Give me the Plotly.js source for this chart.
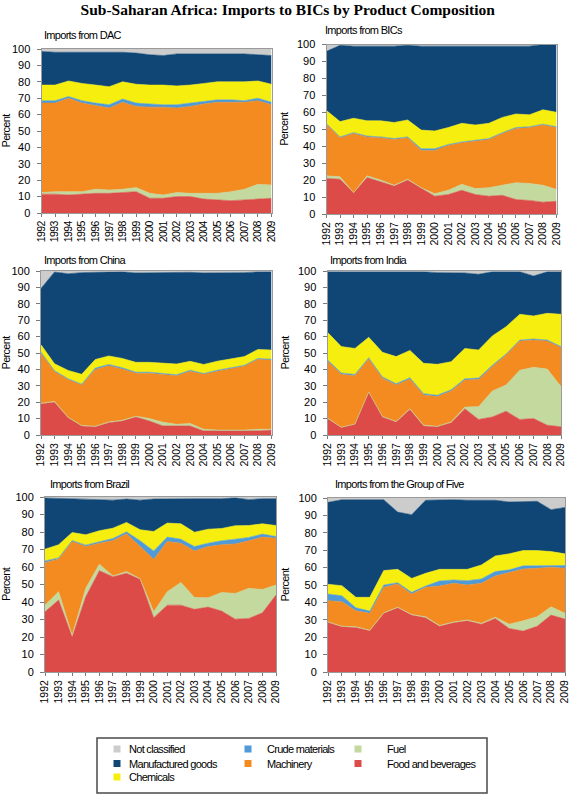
<!DOCTYPE html>
<html>
<head>
<meta charset="utf-8">
<script src="https://cdn.plot.ly/plotly-3.0.1.min.js"></script>
<style>
html,body{margin:0;padding:0;background:#fff;}
#chart{width:572px;height:795px;}
/* condense the sans text to imitate the narrow face of the original */
.annotation-text{letter-spacing:-0.7px;}
.ytitle,.y2title,.y3title,.y4title,.y5title,.y6title{letter-spacing:-0.7px;}
.xtick text{letter-spacing:-0.6px;}
</style>
</head>
<body>
<div id="chart"></div>
<script>
// ---------- DATA ----------
const years = [1992,1993,1994,1995,1996,1997,1998,1999,2000,2001,2002,2003,2004,2005,2006,2007,2008,2009];
const yearLabels = ["1992","1993","1994","1995","1996","1997","1998","1999","2000","2001","2002","2003","2004","2005","2006","2007","2008","2009"];
const categories = ["Food and beverages","Fuel","Machinery","Crude materials","Chemicals","Manufactured goods","Not classified"];
const panelTitles = ["Imports from DAC","Imports from BICs","Imports from China","Imports from India","Imports from Brazil","Imports from the Group of Five"];
const mainTitle = "Sub-Saharan Africa: Imports to BICs by Product Composition";
const yTitle = "Percent";

// DAC
const dacFood  = [11.5,11.5,11,11.5,12,12,12.5,13,9,9,10,10,8.5,8,7.5,8,8.5,9];
const dacFuel  = [1,1.5,2,1.5,2.5,2,2,2.5,3,2,2.5,2,3.5,4,5.5,6.5,9,8];
const dacMach  = [54.5,54,57,54,51,50,53,49.5,52.5,53.5,51.5,53,54.5,55.5,54.5,53,51,49];
const dacCrude = [1.5,1.5,1,1.5,1.5,2,2,2,2,1.5,2,2,1.5,1.5,1.5,1,1.5,1.5];
const dacChem  = [9.5,9.5,9.5,10.5,11,11,10.5,11.5,11.5,12,11.5,11,11,11,11,11.5,10.5,11];
const dacManuf = [20.5,20,17.5,19,20,21,18,19,18.5,18,19.5,19,18,17,17,17,16,17.5];
const dacNC    = [1.5,2,2,2,2,2,2,2.5,3.5,4,3,3,3,3,3,3,3.5,4];
// BICs
const bicFood  = [21,20.5,12.5,21.5,19,16.5,20,15,10.5,11.5,14,11.5,10.5,11,8.5,8,7,7.5];
const bicFuel  = [1.5,1.5,0,1,1,0.5,0.5,0.5,1.5,2.5,3.5,3.5,5,6,10,10,10,7];
const bicMach  = [30.5,23,35,23,25,27,24.5,22,25.5,26.5,24.5,28,28.5,30.5,32,33,35.5,36.5];
const bicCrude = [0.3,0.5,0.5,0.5,0.5,0.5,0.5,1,1,0.5,0.5,0.5,0.5,0.5,0.5,0.5,0.5,0.5];
const bicChem  = [7.7,9,8.5,9,9.5,9.5,10,11,10.5,10,11,9,9,9,8,7,8.5,8.5];
const bicManuf = [35,45,42.5,44,44,45,44,49.5,50,48,45.5,46.5,45.5,42,40,40.5,38.5,40];
const bicNC    = [4,0.5,1,1,1,1,0.5,1,1,1,1,1,1,1,1,1,0,0];
// China
const chnFood  = [19,20,10.5,5.5,5,7.5,8.5,11,8.5,5.5,5.5,5.5,2.5,2.5,2.5,2.5,2.5,3];
const chnFuel  = [0.3,0.5,0.3,0.3,0.3,0.5,0.5,0.5,1.5,2.3,1,1.5,1,0.5,0.5,0.5,1,0.5];
const chnMach  = [30.5,18,23,24.7,34.7,34.3,31.2,26.1,27.6,29.2,29.7,31.8,33.5,35.8,37.2,39,42.6,42.2];
const chnCrude = [0.7,0.7,0.5,0.5,0.8,0.7,0.8,0.7,0.7,0.7,0.5,0.7,0.5,0.7,0.6,0.5,0.6,0.5];
const chnChem  = [4.5,4.2,5.1,6,5.2,5.2,5.7,6,6,6,6.6,5.4,5.5,5.5,5.5,5.3,5.5,5.6];
const chnManuf = [34.4,56,58.9,62,53.2,51.1,52.8,54.5,54.7,55.3,56,54.3,55.8,53.8,52.4,51.2,47.3,47.7];
const chnNC    = [10.6,0.5,1.5,1,0.8,0.7,0.5,1.2,1,1,0.7,0.8,1.2,1.2,1.3,1,0.5,0.5];
// India
const indFood  = [10,4.5,6.5,26,11,8,15.5,5.5,5,7.5,16,9.5,11,14.5,9.5,10,6,5];
const indFuel  = [0.3,0.2,0.2,0.2,0.3,0.3,0.5,0.5,0.3,0.5,1,7.8,15.8,16,30,31.3,34.2,24.5];
const indMach  = [34.8,32.3,29.5,20.1,23.3,22.2,18.1,18.4,18.1,18.8,16.5,16.6,14.9,18.3,17.8,16.6,17.1,23.8];
const indCrude = [0.8,0.8,0.7,0.8,0.8,0.8,0.8,0.8,0.8,0.8,0.8,0.8,0.8,0.6,0.6,0.6,0.6,0.6];
const indChem  = [16.7,16.1,15.9,12.5,15,16.5,16.7,18.5,18.9,17.1,18.5,17.1,17.9,16.6,15.7,14.1,16.3,19.7];
const indManuf = [36.9,45.6,46.7,39.9,49.1,51.7,47.9,55.8,55.9,54.1,46,46.2,39.1,33.5,25.9,24.4,25.3,25.9];
const indNC    = [0.5,0.5,0.5,0.5,0.5,0.5,0.5,0.5,1,1.2,1.2,2,0.5,0.5,0.5,3,0.5,0.5];
// Brazil
const braFood  = [34.4,41.1,20.1,43,57.9,54.5,56.4,53,31,38.2,38.2,35.8,37.1,34.8,30.2,30.6,33.8,44];
const braFuel  = [3.8,4.8,0.9,4.8,3.7,0.4,1,0.3,3.4,7.7,13,6.8,5.3,10.7,14.7,17.2,13.4,5.7];
const braMach  = [24.3,18.7,53.6,23.9,12,20.2,21.6,18.4,30,28.7,22.4,26.6,29.3,27.2,28.3,27.2,29.9,26.8];
const braCrude = [1,0.6,0.5,0.8,0.8,1.2,1.1,3.3,4.8,2.5,2.3,2.5,1.9,2.3,2.7,1.9,1.7,0.9];
const braChem  = [6.7,7.5,4.6,5.9,6.3,5.9,5.4,6.3,11.1,8,8.8,8.2,8,7,7.7,6.8,5.9,6.3];
const braManuf = [29.3,26.5,19.5,20.6,17.8,16,13.3,16.9,18.5,13.9,14.3,19.1,17.4,17,15.9,14.8,14.3,15.3];
const braNC    = [0.5,0.8,0.8,1,1.5,1.8,1.2,1.8,1.2,1,1,1,1,1,0.5,1.5,1,1];
// Group of Five
const g5Food  = [28.5,26,25.6,23.7,33.7,36.9,32.7,31.2,26.3,28.3,29.4,27.5,30.8,25,23.5,26.3,32.7,30.4];
const g5Fuel  = [0.3,0.3,0.4,0.3,0.3,0.3,0.3,0.5,0.4,0.4,0.5,0.5,0.7,2.5,5.9,5.4,4.8,3.3];
const g5Mach  = [12.2,14.1,9.2,9.7,14.7,13.4,11.8,17,22.7,22.3,20.1,23,23.7,29.6,29.8,27.9,22.7,25.9];
const g5Crude = [3.8,3.4,1.7,1.3,1.3,0.7,1,0.7,2.9,1.9,2.5,2.5,2.5,1.6,1.8,1.6,1.1,1.6];
const g5Chem  = [5.6,5.8,6,7.9,8.3,7.7,8,7.3,6.7,6.1,6.5,8,9,9.2,8.8,8.6,7.9,6.7];
const g5Manuf = [47.1,49.4,56.1,56.1,40.7,32.9,36.6,42,40,40,39.7,37,32,29.8,28.1,28.3,24.1,26.7];
const g5NC    = [2.5,1,1,1,1,8.1,9.6,1.3,1,1,1.3,1.5,1.3,2.3,2.1,1.9,6.7,5.4];

// ---------- STYLE ----------
const colors = {
  "Food and beverages": "#dc4b48",
  "Fuel": "#c3d99e",
  "Machinery": "#f38b20",
  "Crude materials": "#4f9ad8",
  "Chemicals": "#f6ee0e",
  "Manufactured goods": "#0f4675",
  "Not classified": "#cccccc"
};
const FONT = '"Liberation Sans", Arial, sans-serif';
const W = 572, H = 795;

const panelData = [
  [dacFood, dacFuel, dacMach, dacCrude, dacChem, dacManuf, dacNC],
  [bicFood, bicFuel, bicMach, bicCrude, bicChem, bicManuf, bicNC],
  [chnFood, chnFuel, chnMach, chnCrude, chnChem, chnManuf, chnNC],
  [indFood, indFuel, indMach, indCrude, indChem, indManuf, indNC],
  [braFood, braFuel, braMach, braCrude, braChem, braManuf, braNC],
  [g5Food, g5Fuel, g5Mach, g5Crude, g5Chem, g5Manuf, g5NC]
];

// plot-area boxes in pixels [left, right, top, bottom]
const boxes = [
  [41.5, 271.5, 49, 213],
  [326.5, 556.5, 44.5, 214],
  [41, 271.5, 271, 435],
  [327.5, 561, 271, 435],
  [45, 276, 497, 672],
  [328, 565, 498, 672]
];
const titlePos = [[42,35],[323,30],[42,260],[328,260],[48,484],[333,484]];

const traces = [];
const layout = {
  width: W, height: H,
  margin: {l:0, r:0, t:0, b:0},
  paper_bgcolor: '#ffffff', plot_bgcolor: '#ffffff',
  showlegend: false,
  title: {
    text: mainTitle,
    font: {family: '"Liberation Serif", "Times New Roman", serif', size: 15.5, color: '#000', weight: 'bold'},
    x: 0.503, xanchor: 'center', xref: 'paper',
    y: 1 - 10/H, yref: 'container', yanchor: 'middle'
  },
  annotations: [],
  shapes: []
};

panelData.forEach((series, i) => {
  const xs = i === 0 ? '' : String(i + 1);
  series.forEach((vals, k) => {
    const cat = categories[k];
    traces.push({
      type: 'scatter', mode: 'lines',
      x: years, y: vals,
      name: cat,
      stackgroup: 'g' + i,
      fillcolor: colors[cat],
      line: {width: 0.6, color: colors[cat], shape: 'linear'},
      xaxis: 'x' + xs, yaxis: 'y' + xs,
      showlegend: false,
      hovertemplate: cat + ' %{x}: %{y}%<extra></extra>'
    });
  });
  const b = boxes[i];
  layout['xaxis' + xs] = {
    domain: [b[0]/W, b[1]/W], anchor: 'y' + xs,
    range: [years[0], years[years.length-1]],
    tickmode: 'array', tickvals: years, ticktext: yearLabels,
    tickangle: -90, ticks: 'outside', ticklen: 3, tickcolor: '#7a7a7a', tickwidth: 1,
    showline: true, linecolor: '#9a9a9a', linewidth: 1, mirror: true,
    showgrid: false, zeroline: false,
    tickfont: {family: FONT, size: 10.5, color: '#000'},
    fixedrange: true
  };
  layout['yaxis' + xs] = {
    domain: [1 - b[3]/H, 1 - b[2]/H], anchor: 'x' + xs,
    range: [0, 100], tickmode: 'linear', tick0: 0, dtick: 10,
    ticks: 'outside', ticklen: 4, tickcolor: '#7a7a7a', tickwidth: 1,
    ticklabelstandoff: 4,
    showline: true, linecolor: '#9a9a9a', linewidth: 1, mirror: true,
    showgrid: false, zeroline: false,
    tickfont: {family: FONT, size: 11, color: '#000'},
    title: {text: yTitle, font: {family: FONT, size: 11, color: '#000'}, standoff: 6},
    fixedrange: true
  };
  layout.annotations.push({
    text: panelTitles[i], xref: 'paper', yref: 'paper',
    x: titlePos[i][0]/W, y: 1 - titlePos[i][1]/H,
    xanchor: 'left', yanchor: 'middle', showarrow: false,
    font: {family: FONT, size: 11, color: '#000'}
  });
});

// ---------- LEGEND (boxed, three columns as in the reference) ----------
const legendOrder = ["Not classified","Manufactured goods","Chemicals","Crude materials","Machinery","Fuel","Food and beverages"];
const legCol = [0,0,0,1,1,2,2];
const legRow = [0,1,2,0,1,0,1];
const swatchX = [117, 248, 358];
const textX = [127, 265, 385];
const rowY = [749, 763.5, 777];
layout.shapes.push({
  type: 'rect', xref: 'paper', yref: 'paper',
  x0: 97/W, x1: 487/W, y0: 1 - 793/H, y1: 1 - 738/H,
  line: {color: '#4a4a4a', width: 1.5}, fillcolor: 'rgba(0,0,0,0)'
});
legendOrder.forEach((cat, j) => {
  const cx = swatchX[legCol[j]], cy = rowY[legRow[j]], s = 3.5;
  layout.shapes.push({
    type: 'rect', xref: 'paper', yref: 'paper',
    x0: (cx - s)/W, x1: (cx + s)/W, y0: 1 - (cy + s)/H, y1: 1 - (cy - s)/H,
    line: {width: 0}, fillcolor: colors[cat]
  });
  layout.annotations.push({
    text: cat, xref: 'paper', yref: 'paper',
    x: textX[legCol[j]]/W, y: 1 - cy/H,
    xanchor: 'left', yanchor: 'middle', showarrow: false,
    font: {family: FONT, size: 11, color: '#000'}
  });
});

Plotly.newPlot('chart', traces, layout, {staticPlot: true, displayModeBar: false});
</script>
</body>
</html>
